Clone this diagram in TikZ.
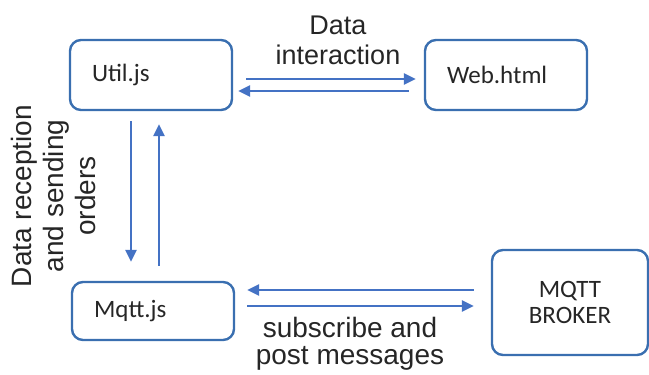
\documentclass[tikz,border=0pt]{standalone}
\usepackage{fontspec}
\setmainfont{Liberation Sans}
\newfontfamily\calfont{Carlito}
\usetikzlibrary{arrows.meta, calc}
\definecolor{lineblue}{HTML}{4472C4}
\definecolor{boxblue}{HTML}{3A6FB0}
\definecolor{inkgray}{HTML}{262626}
\tikzset{
	box/.style={draw=boxblue, line width=2.4pt, rounded corners=11pt, fill=white,
		text=inkgray, font=\calfont\fontsize{25}{26}\selectfont, inner sep=0pt},
	leftbox/.style={box, text width=118pt, align=left, inner xsep=22pt,
		minimum width=162pt},
	link/.style={draw=lineblue, line width=2.4pt, -{Triangle[length=12pt,width=11pt]}},
	note/.style={text=inkgray, inner sep=0pt, align=center}
}

\begin{document}
\begin{tikzpicture}[x=1pt, y=-1pt]
			\useasboundingbox (0, 0) rectangle (649, 375);
			
			\node[leftbox, minimum height=70pt] (util) at (151, 75) {Util.js};
			\node[leftbox, minimum height=70pt] (web) at (506, 75) {Web.html};
			\node[leftbox, minimum height=58pt, minimum width=160pt, text width=118pt] (mqtt) at (153, 311) {Mqtt.js};
			\node[box, align=center, minimum width=156pt, minimum height=105pt] (broker) at (570, 302.5) {MQTT\\BROKER};
			
			\draw[link] ($(util.east)+(13, 4)$) -- ($(web.west)+(-8, 4)$);
			\draw[link] ($(web.west)+(-15, 16)$) -- ($(util.east)+(5, 16)$);
			\draw[link] ($(util.south)+(-20, 10)$) -- ($(mqtt.north)+(-22, -19)$);
			\draw[link] ($(mqtt.north)+(6, -15)$) -- ($(util.south)+(8, 13)$);
			\draw[link] ($(broker.west)+(-17, -12.5)$) -- ($(mqtt.east)+(12, -21)$);
			\draw[link] ($(mqtt.east)+(12, -5)$) -- ($(broker.west)+(-17, 3.5)$);
			
			\node[note, font=\fontsize{27}{30}\selectfont] (dataint) at (338, 40) {Data\\interaction};
			\node[note, font=\fontsize{28}{32}\selectfont, rotate=90] (recv) at (53, 196) {Data reception\\and sending\\orders};
			\node[note, font=\fontsize{28}{27}\selectfont] (subpost) at (350, 344) {subscribe and\\post messages};
\end{tikzpicture}
\end{document}
